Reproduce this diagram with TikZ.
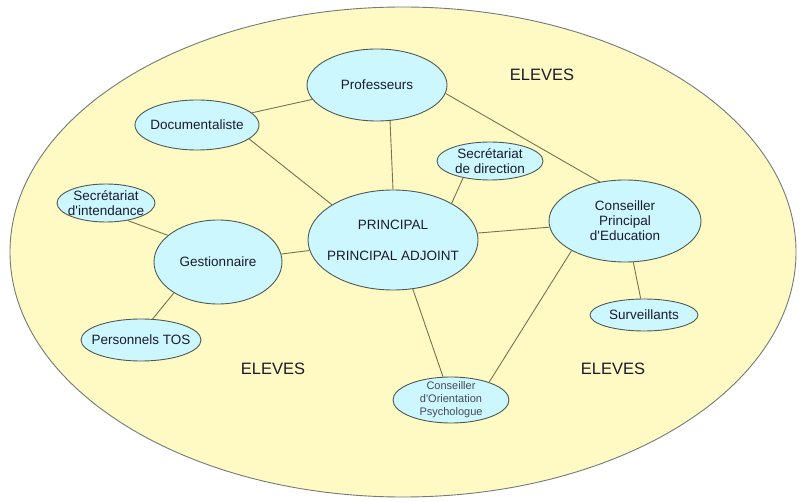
\documentclass[tikz,border=0pt]{standalone}
\usepackage{fontspec}
\setmainfont{Liberation Sans}
\usetikzlibrary{shapes.geometric}
\definecolor{fondjaune}{HTML}{FFFAC4}
\definecolor{bleuclair}{HTML}{CCF7FF}
\definecolor{bord}{HTML}{4E5A55}
\definecolor{trait}{HTML}{7A7150}
\definecolor{encre}{HTML}{1A1C2C}
\newcommand{\apos}{\textquotesingle}
\tikzset{
  bulle/.style={ellipse, draw=bord, fill=bleuclair, line width=0.9pt, inner sep=0pt},
  texte/.style={align=center, text=encre, font=\fontsize{13.5}{15}\selectfont},
  petit/.style={align=center, text=encre!80, font=\fontsize{11}{13}\selectfont},
  eleves/.style={text=encre, font=\fontsize{16.5}{18}\selectfont},
  lien/.style={draw=trait, line width=0.9pt}
}

\begin{document}
\begin{tikzpicture}[x=1pt, y=-1pt]
    \useasboundingbox (0,0) rectangle (805,502);
    \fill[white] (0,0) rectangle (805,502);
    \draw[fill=fondjaune, draw=bord!80, line width=0.9pt] (403,252) ellipse [x radius=393, y radius=245];

    \node[eleves] (e1) at (542,75) {ELEVES};
    \node[eleves] (e2) at (273,369) {ELEVES};
    \node[eleves] (e3) at (613,369) {ELEVES};

    \node[bulle, minimum width=140, minimum height=72, label={[texte]center:Professeurs}] (prof) at (377,85) {};
    \node[bulle, minimum width=124, minimum height=50, label={[texte]center:Documentaliste}] (doc) at (197,125) {};
    \node[bulle, minimum width=106, minimum height=38, label={[texte]center:Secrétariat\\de direction}] (secdir) at (490,161) {};
    \node[bulle, minimum width=98, minimum height=38, label={[texte]center:Secrétariat\\d\apos intendance}] (secint) at (106,203) {};
    \node[bulle, minimum width=170, minimum height=100, label={[texte]center:PRINCIPAL\\[16pt]PRINCIPAL ADJOINT}] (princ) at (393,240) {};
    \node[bulle, minimum width=152, minimum height=82, label={[texte]center:Conseiller\\Principal\\d\apos Education}] (cpe) at (625,221) {};
    \node[bulle, minimum width=128, minimum height=84, label={[texte]center:Gestionnaire}] (gest) at (218,262) {};
    \node[bulle, minimum width=120, minimum height=42, label={[texte]center:Personnels TOS}] (tos) at (141,340) {};
    \node[bulle, minimum width=108, minimum height=32, label={[texte]center:Surveillants}] (surv) at (644,315) {};
    \node[bulle, minimum width=116, minimum height=46, label={[petit]center:Conseiller\\d\apos Orientation\\Psychologue}] (cop) at (451,400) {};

    \draw[lien] (prof) -- (doc);
    \draw[lien] (prof.-70) -- (princ.north);
    \draw[lien] (prof.-7) -- (cpe.123);
    \draw[lien] (doc.-15) -- (princ.150);
    \draw[lien] (secdir.-148) -- (princ.32);
    \draw[lien] (secint.-39) -- (gest.152);
    \draw[lien] (gest) -- (princ);
    \draw[lien] (gest.-145) -- (tos.61);
    \draw[lien] (princ) -- (cpe);
    \draw[lien] (cpe) -- (surv);
    \draw[lien] (cpe.-151) -- (cop.25);
    \draw[lien] (princ.-68) -- (cop.109);
\end{tikzpicture}
\end{document}
